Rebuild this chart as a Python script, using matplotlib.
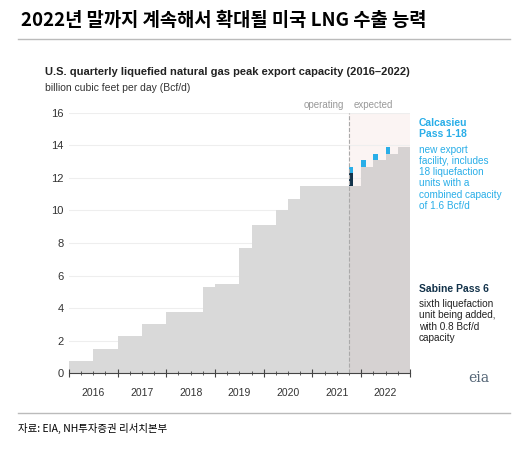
import matplotlib
matplotlib.use("Agg")
import matplotlib.pyplot as plt
from matplotlib.lines import Line2D

plt.rcParams['font.family'] = ['Liberation Sans', 'Noto Sans CJK KR', 'DejaVu Sans']

years = [2016, 2017, 2018, 2019, 2020, 2021, 2022]
# quarterly capacity (Bcf/d), 2016Q1..2022Q4
base = [0.75, 0.75, 1.5, 1.5, 2.25, 2.25, 3.0, 3.0,
        3.75, 3.75, 3.75, 5.3, 5.5, 5.5, 7.7, 9.1,
        9.1, 10.0, 10.7, 11.5, 11.5, 11.5, 11.5, 11.5,
        12.7, 13.1, 13.5, 13.9]
sabine = {23: 0.8}           # quarter index -> added
calcasieu = {23: 0.4, 24: 0.4, 25: 0.4, 26: 0.4}
expected_start = 23

fig = plt.figure(figsize=(5.29, 4.5), dpi=100)
fig.text(0.04, 0.955, "2022년 말까지 계속해서 확대될 미국 LNG 수출 능력", fontsize=13.5,
         fontweight='bold', family=['Noto Sans CJK KR', 'DejaVu Sans'], va='center')
fig.add_artist(Line2D([0.034, 0.965], [0.913, 0.913], color='#bbbbbb', lw=1))
fig.add_artist(Line2D([0.034, 0.965], [0.082, 0.082], color='#bbbbbb', lw=1))
fig.text(0.034, 0.047, "자료: EIA, NH투자증권 리서치본부", fontsize=7.5,
         family=['Noto Sans CJK KR', 'DejaVu Sans'], va='center')
fig.text(0.085, 0.84, "U.S. quarterly liquefied natural gas peak export capacity (2016–2022)",
         fontsize=8, fontweight='bold', color='#222222', va='center')
fig.text(0.085, 0.805, "billion cubic feet per day (Bcf/d)", fontsize=7.5, color='#333333', va='center')

ax = fig.add_axes([0.13, 0.171, 0.645, 0.578])
n = len(base)
x0 = 2016.0
xs = [x0 + i * 0.25 for i in range(n)]
ax.axvspan(x0 + expected_start * 0.25, x0 + n * 0.25, ymax=1, color='#fbf4f3', zorder=0)
for yv in range(2, 17, 2):
    ax.axhline(yv, color='#eeeeee', lw=0.8, zorder=0.5)
for i, (x, h) in enumerate(zip(xs, base)):
    c = '#d6d2d2' if i >= expected_start else '#d9d9d9'
    ax.bar(x, h, width=0.25, align='edge', color=c, zorder=1)
for i, h in sabine.items():
    ax.bar(xs[i], h, width=0.09, bottom=base[i], align='edge', color='#12324a', zorder=2)
for i, h in calcasieu.items():
    b = base[i] + sabine.get(i, 0)
    ax.bar(xs[i], h, width=0.09, bottom=b, align='edge', color='#29aee8', zorder=2)
xv = x0 + expected_start * 0.25
ax.plot([xv, xv], [0, 16], ls='--', color='#aaaaaa', lw=0.8, zorder=3)
ax.text(xv - 0.1, 16.3, "operating", ha='right', fontsize=7, color='#999999')
ax.text(xv + 0.1, 16.3, "expected", ha='left', fontsize=7, color='#999999')

ax.set_xlim(x0, x0 + n * 0.25)
ax.set_ylim(0, 16)
ax.set_yticks(range(0, 17, 2))
ax.set_xticks([x0 + i * 0.25 for i in range(n + 1)], minor=True)
ax.set_xticks([y + 0.0 for y in range(2016, 2024)])
ax.set_xticklabels([])
for y in years:
    ax.text(y + 0.5, -1.2, str(y), ha='center', va='center', fontsize=7.5, color='#333333')
for s in ['top', 'right', 'left']:
    ax.spines[s].set_visible(False)
ax.spines['bottom'].set_color('#444444')
ax.tick_params(axis='y', length=0, labelsize=8, colors='#333333')
ax.tick_params(axis='x', which='major', length=6, direction='inout', color='#444444')
ax.tick_params(axis='x', which='minor', length=3, direction='inout', color='#444444')

tx = 0.792
fig.text(tx, 0.738, "Calcasieu\nPass 1-18", fontsize=7.5, fontweight='bold', color='#29aee8',
         va='top', linespacing=1.1)
fig.text(tx, 0.678, "new export\nfacility, includes\n18 liquefaction\nunits with a\ncombined capacity\nof 1.6 Bcf/d",
         fontsize=7.2, color='#29aee8', va='top', linespacing=1.15)
fig.text(tx, 0.37, "Sabine Pass 6", fontsize=7.5, fontweight='bold', color='#12324a', va='top')
fig.text(tx, 0.335, "sixth liquefaction\nunit being added,\nwith 0.8 Bcf/d\ncapacity",
         fontsize=7.2, color='#222222', va='top', linespacing=1.15)
fig.text(0.905, 0.15, "eia", fontsize=10, color='#556677', family='serif', ha='center')

fig.savefig("out.png", dpi=100, facecolor='white')
